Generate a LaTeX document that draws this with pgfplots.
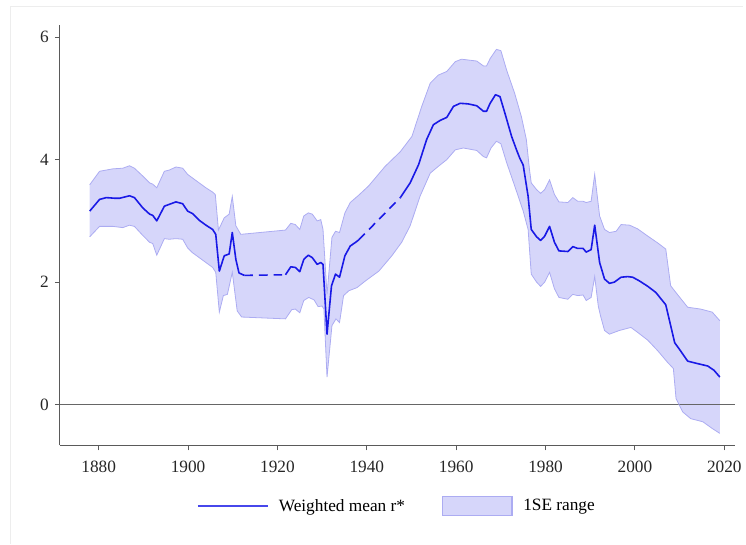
\documentclass[border=0pt]{standalone}
\usepackage{pgfplots}
\pgfplotsset{compat=1.18}
\usepackage{pgfplotstable}
\usepgfplotslibrary{fillbetween}
\usepackage{fontspec}
\setmainfont{Liberation Serif}
\definecolor{mainblue}{RGB}{25,25,230}
\definecolor{bandfill}{RGB}{214,214,250}
\definecolor{bandedge}{RGB}{172,172,242}
\definecolor{axgray}{RGB}{90,90,90}
\pgfplotsset{
  lineleg/.style={legend image code/.code={\path[draw=none,fill=none] (-2pt,0pt) -- (59pt,0pt);\draw[##1] (0pt,0pt) -- (52.5pt,0pt);}},
  boxleg/.style={legend image code/.code={\path[draw=none,fill=none] (-2pt,0pt) -- (59pt,0pt);\draw[##1] (0pt,-7pt) rectangle (52.5pt,7pt);}},
}

\pgfplotstableread{
x y
1878 3.59
1880.2 3.81
1883.2 3.85
1885.4 3.86
1886.9 3.90
1888 3.86
1889.9 3.73
1891.4 3.62
1892.1 3.60
1893 3.54
1894.7 3.81
1895.8 3.83
1897.3 3.88
1898.8 3.86
1899.9 3.76
1901 3.70
1902.5 3.62
1904 3.54
1905.5 3.47
1906.1 3.43
1906.8 2.85
1908.1 3.05
1909.2 3.11
1909.9 3.40
1910.7 2.92
1911.8 2.78
1921.8 2.85
1923 2.96
1924 2.94
1925 2.86
1925.9 3.08
1926.9 3.13
1927.8 3.11
1928.9 3.00
1929.7 3.02
1930.2 2.86
1931.1 1.80
1932.2 2.73
1933 2.83
1933.9 2.81
1935.1 3.13
1936.3 3.30
1938.2 3.42
1940.4 3.57
1944.1 3.89
1947.5 4.13
1950.1 4.38
1952.3 4.87
1954.2 5.25
1956 5.38
1957.9 5.44
1959.8 5.60
1961.2 5.64
1964.6 5.61
1966.1 5.53
1966.8 5.53
1967.6 5.65
1969 5.80
1970 5.78
1971.3 5.46
1973.1 5.08
1974.6 4.70
1975.7 4.33
1976.4 3.84
1976.8 3.62
1978 3.51
1978.9 3.45
1979.8 3.51
1980.9 3.67
1982 3.43
1983 3.31
1985 3.30
1986.1 3.38
1987.2 3.32
1988.4 3.32
1989.1 3.30
1990.2 3.32
1991 3.76
1992.1 3.08
1993.2 2.86
1994.3 2.81
1995.8 2.83
1996.9 2.94
1998.8 2.93
2000.6 2.87
2002.9 2.75
2005.1 2.64
2006.9 2.54
2008 1.94
2009.5 1.80
2011.8 1.59
2014.7 1.56
2017.3 1.51
2019 1.37
}\upperband

\pgfplotstableread{
x y
1878 2.74
1880.2 2.91
1883.2 2.91
1885.4 2.89
1886.9 2.93
1888 2.91
1889.9 2.76
1891.4 2.65
1892.1 2.63
1893 2.44
1894.7 2.71
1895.8 2.70
1897.3 2.71
1898.8 2.70
1899.9 2.56
1901 2.48
1902.5 2.40
1904 2.32
1905.5 2.24
1906.2 2.16
1907 1.51
1907.9 1.78
1908.8 1.80
1909.9 2.16
1911 1.53
1912 1.43
1921.8 1.40
1923.2 1.55
1924 1.56
1925 1.50
1925.9 1.70
1927 1.75
1928.2 1.71
1929.1 1.60
1930 1.61
1930.4 1.56
1931.1 0.45
1932.2 1.29
1933.1 1.40
1933.9 1.34
1934.8 1.78
1936 1.86
1937.8 1.91
1939.7 2.02
1942.7 2.18
1945.6 2.43
1947.8 2.65
1949.7 2.92
1951.9 3.40
1954.2 3.78
1956 3.89
1957.9 4.00
1959.8 4.16
1961.6 4.19
1964.6 4.15
1966.1 4.05
1966.8 4.03
1967.8 4.19
1969 4.30
1970 4.26
1971.3 3.95
1973.1 3.57
1975 3.16
1976.1 2.86
1976.8 2.13
1978 2.00
1978.9 1.93
1979.8 2.00
1980.9 2.16
1982 1.89
1983 1.75
1985 1.72
1986.1 1.80
1987.2 1.78
1988.4 1.79
1989.1 1.70
1990.2 1.75
1991 2.09
1991.8 1.61
1992.3 1.45
1993.2 1.21
1994.3 1.15
1996.5 1.21
1999.1 1.26
2000.6 1.18
2002.9 1.05
2005.1 0.88
2007.3 0.69
2008.6 0.59
2009.2 0.10
2010.7 -0.12
2012.5 -0.23
2015.2 -0.28
2017.3 -0.39
2019 -0.47
}\lowerband

\pgfplotstableread{
x y
1878 3.16
1880.2 3.35
1881.7 3.38
1883.5 3.37
1884.7 3.37
1886.9 3.41
1888 3.38
1889.9 3.21
1891.4 3.11
1892.1 3.09
1893 3.00
1894.7 3.24
1895.8 3.27
1897.3 3.31
1898.8 3.28
1899.9 3.16
1901 3.12
1902.5 3.01
1904 2.93
1905.5 2.86
1906.2 2.78
1907 2.18
1908.1 2.43
1909.2 2.46
1909.9 2.81
1910.7 2.37
1911.4 2.15
1912.6 2.11
}\meanA

\pgfplotstableread{
x y
1921.8 2.12
1923 2.25
1924 2.24
1925 2.17
1925.9 2.37
1926.9 2.44
1927.8 2.40
1928.9 2.29
1929.7 2.32
1930.2 2.29
1931.1 1.15
1932.1 1.94
1933 2.13
1933.9 2.08
1935.1 2.43
1936.3 2.59
1937.5 2.65
1938.2 2.69
}\meanB

\pgfplotstableread{
x y
1947.5 3.38
1949.7 3.62
1951.6 3.92
1953.4 4.33
1954.9 4.57
1956.4 4.64
1957.9 4.69
1959.4 4.87
1960.9 4.92
1962.7 4.91
1964.6 4.88
1966.1 4.79
1966.8 4.79
1967.6 4.92
1968.8 5.06
1969.8 5.03
1970.9 4.76
1972.4 4.38
1973.5 4.16
1974.2 4.03
1975 3.91
1976.1 3.40
1976.8 2.86
1978 2.74
1978.9 2.68
1979.8 2.75
1980.9 2.91
1982 2.65
1983 2.51
1985 2.50
1986.1 2.58
1987.2 2.55
1988.4 2.55
1989.1 2.49
1990.2 2.53
1991 2.93
1992.1 2.32
1993.2 2.05
1994.3 1.98
1995.4 2.00
1996.9 2.08
1998.4 2.09
1999.5 2.08
2001 2.02
2002.9 1.93
2004.7 1.83
2006.9 1.63
2008 1.29
2008.9 1.01
2009.9 0.91
2011.8 0.71
2014 0.67
2016.3 0.63
2017.7 0.56
2019 0.45
}\meanC

\begin{document}
\begin{tikzpicture}
\begin{axis}[
  name=ax,
  scale only axis,
  width=508.5pt, height=316.5pt,
  xmin=1871.3, xmax=2022.5,
  ymin=-0.667, ymax=6.2,
  axis x line*=bottom, axis y line*=left,
  axis line style={draw=axgray, line width=0.8pt},
  xtick={1880,1900,...,2020},
  ytick={0,2,4,6},
  tick align=outside,
  major tick length=3.75pt,
  tick style={draw=axgray, line width=0.8pt},
  xticklabel style={/pgf/number format/1000 sep={}, yshift=-4.5pt},
  yticklabel style={xshift=-1pt},
  /pgf/number format/assume math mode=true,
  ticklabel style={font=\fontsize{13}{15}\selectfont, text=black!85},
  clip=false,
  legend columns=2,
  legend style={draw=none, fill=none, at={(0.498,-0.1445)}, anchor=center,
    font=\fontsize{13}{15}\selectfont,
    /tikz/every even column/.append style={column sep=24pt}},
]
\addplot[black!60, line width=0.6pt, forget plot] coordinates {(1871.3,0) (2022.5,0)};
\addplot[name path=up, draw=bandedge, line width=0.6pt, forget plot] table[x=x,y=y] {\upperband};
\addplot[name path=lo, draw=bandedge, line width=0.6pt, forget plot] table[x=x,y=y] {\lowerband};
\addplot[bandfill, forget plot] fill between[of=up and lo];
\addplot[mainblue, line width=1.2pt, line join=round, forget plot] table[x=x,y=y] {\meanA};
\addplot[mainblue, line width=1.2pt, dash pattern=on 6.5pt off 4.5pt, forget plot] coordinates {(1912.6,2.11) (1921.8,2.12)};
\addplot[mainblue, line width=1.2pt, line join=round, forget plot] table[x=x,y=y] {\meanB};
\addplot[mainblue, line width=1.2pt, dash pattern=on 6.5pt off 4.5pt, forget plot] coordinates {(1938.2,2.69) (1947.5,3.38)};
\addplot[mainblue, line width=1.2pt, line join=round, forget plot] table[x=x,y=y] {\meanC};
\addlegendimage{lineleg, draw=mainblue!80, line width=1.3pt}
\addlegendentry{Weighted mean r*}
\addlegendimage{boxleg, fill=bandfill, draw=bandedge, line width=0.8pt}
\addlegendentry{1SE range}
\end{axis}
\draw[black!7, line width=0.6pt] ([shift={(-37.5pt,-74.25pt)}]ax.south west) -- ([shift={(-37.5pt,14.25pt)}]ax.north west) -- ([shift={(6pt,14.25pt)}]ax.north east);
\path[use as bounding box] ([shift={(-45pt,-74.25pt)}]ax.south west) rectangle ([shift={(6pt,18.75pt)}]ax.north east);
\end{tikzpicture}
\end{document}
